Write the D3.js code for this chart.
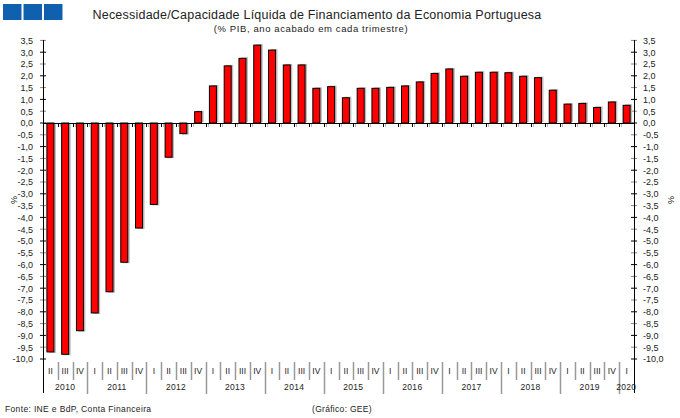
<!DOCTYPE html>
<html><head><meta charset="utf-8">
<script src="https://cdn.jsdelivr.net/npm/d3@7"></script>
<style>body{margin:0;background:#fff}svg{display:block}text{font-family:"Liberation Sans",Arial,sans-serif}</style>
</head><body>
<svg id="c" width="680" height="418"></svg>
<script>
const years = ["2010","2011","2012","2013","2014","2015","2016","2017","2018","2019","2020"];
const quarters = ["2010 II","2010 III","2010 IV",
 "2011 I","2011 II","2011 III","2011 IV",
 "2012 I","2012 II","2012 III","2012 IV",
 "2013 I","2013 II","2013 III","2013 IV",
 "2014 I","2014 II","2014 III","2014 IV",
 "2015 I","2015 II","2015 III","2015 IV",
 "2016 I","2016 II","2016 III","2016 IV",
 "2017 I","2017 II","2017 III","2017 IV",
 "2018 I","2018 II","2018 III","2018 IV",
 "2019 I","2019 II","2019 III","2019 IV",
 "2020 I"];
const values = [-9.7,-9.8,-8.8,
 -8.05,-7.15,-5.9,-4.45,
 -3.45,-1.45,-0.45,0.48,
 1.57,2.42,2.74,3.3,
 3.09,2.46,2.46,1.47,
 1.54,1.07,1.47,1.47,
 1.51,1.57,1.74,2.1,
 2.29,1.98,2.15,2.15,
 2.13,1.98,1.92,1.39,
 0.8,0.83,0.66,0.89,
 0.75];
const yTicks = d3.range(-20,8).map(d=>d/2);
const title = "Necessidade/Capacidade Líquida de Financiamento da Economia Portuguesa";
const subtitle = "(% PIB, ano acabado em cada trimestre)";
const source = "Fonte: INE e BdP, Conta Financeira";
const credit = "(Gráfico: GEE)";

const svg = d3.select("#c");
const L = 43, R = 634;
const y = d3.scaleLinear().domain([-10,3.5]).range([359,40.4]);
const x = d3.scaleBand().domain(quarters).range([L,R]).paddingInner(0).paddingOuter(0);
const bw = 7;

// logo
[0,1,2].forEach(i=>svg.append("rect").attr("x",3+i*20.5).attr("y",4).attr("width",18.5).attr("height",16).attr("fill","#1060b0"));

svg.append("text").attr("x",317).attr("y",19).attr("text-anchor","middle").attr("font-size",12.5).attr("letter-spacing",0.22).attr("fill","#222").text(title);
svg.append("text").attr("x",311).attr("y",32).attr("text-anchor","middle").attr("font-size",9.5).attr("letter-spacing",0.6).attr("fill","#222").text(subtitle);

// axes
const fmt = d=>d3.format(".1f")(d).replace(".",",").replace("−","-");
const leftAx = svg.append("g").attr("transform",`translate(${L},0)`)
  .call(d3.axisLeft(y).tickValues(yTicks).tickSize(0).tickFormat(fmt));
leftAx.select(".domain").remove();
leftAx.selectAll("text").attr("x",-10).attr("font-size",9).attr("fill","#222").attr("font-family","Liberation Sans, Arial, sans-serif");
const rightAx = svg.append("g").attr("transform",`translate(${R},0)`)
  .call(d3.axisRight(y).tickValues(yTicks).tickSize(0).tickFormat(fmt));
rightAx.select(".domain").remove();
rightAx.selectAll("text").attr("x",9).attr("font-size",9).attr("fill","#222").attr("font-family","Liberation Sans, Arial, sans-serif");

yTicks.forEach(t=>{
  const c = Number.isInteger(t) ? "#000" : "#888";
  svg.append("line").attr("x1",L-3).attr("x2",L+3).attr("y1",y(t)).attr("y2",y(t)).attr("stroke",c);
  svg.append("line").attr("x1",R-3).attr("x2",R+3).attr("y1",y(t)).attr("y2",y(t)).attr("stroke",c);
});
svg.append("line").attr("x1",L+0.5).attr("x2",L+0.5).attr("y1",40).attr("y2",393).attr("stroke","#000");
svg.append("line").attr("x1",R+0.5).attr("x2",R+0.5).attr("y1",40).attr("y2",393).attr("stroke","#000");

svg.append("text").attr("transform",`translate(11,200) rotate(90)`).attr("text-anchor","middle").attr("font-size",9).attr("fill","#222").text("%");
svg.append("text").attr("transform",`translate(668,200) rotate(90)`).attr("text-anchor","middle").attr("font-size",9).attr("fill","#222").text("%");

// bars
const g = svg.append("g");
quarters.forEach((q,i)=>{
  const v = values[i];
  const cx = x(q) + x.bandwidth()/2;
  const y0 = y(0), y1 = y(v);
  const top = Math.min(y0,y1), h = Math.abs(y1-y0);
  g.append("rect").attr("x",cx-bw/2+2).attr("y",top+ (v>0?-1:1)).attr("width",bw).attr("height",h).attr("fill","#bbb");
  g.append("rect").attr("x",cx-bw/2).attr("y",top).attr("width",bw).attr("height",h).attr("fill","#ff0000").attr("stroke","#000").attr("stroke-width",1);
});
// zero line
svg.append("line").attr("x1",L).attr("x2",R).attr("y1",y(0)+0.5).attr("y2",y(0)+0.5).attr("stroke","#000");
quarters.forEach((q,i)=>{
  if(i===0) return;
  const xx = Math.round(x(q))+0.5;
  svg.append("line").attr("x1",xx).attr("x2",xx).attr("y1",y(0)).attr("y2",y(0)+4).attr("stroke","#000");
  svg.append("line").attr("x1",xx+2).attr("x2",xx+2).attr("y1",y(0)+1).attr("y2",y(0)+4).attr("stroke","#bbb");
});

// category axis
const qlab = q=>q.split(" ")[1];
quarters.forEach((q,i)=>{
  const cx = x(q)+x.bandwidth()/2;
  svg.append("text").attr("x",cx).attr("y",374).attr("text-anchor","middle").attr("font-size",8.5).attr("fill","#222").text(qlab(q));
  if(i>0){
    const xx = Math.round(x(q))+0.5;
    const isYear = qlab(q)==="I";
    svg.append("line").attr("x1",xx).attr("x2",xx).attr("y1",362).attr("y2",isYear?394:380).attr("stroke","#999").attr("stroke-width",1.5);
  }
});
years.forEach(yr=>{
  const qs = quarters.filter(q=>q.startsWith(yr));
  const x0 = x(qs[0]), x1 = x(qs[qs.length-1])+x.bandwidth();
  let cx = (x0+x1)/2;
  if(yr==="2020") cx = x0 + 7;
  svg.append("text").attr("x",cx).attr("y",390).attr("text-anchor","middle").attr("font-size",8.5).attr("letter-spacing",0.3).attr("fill","#222").text(yr);
});

svg.append("text").attr("x",5).attr("y",412).attr("font-size",8.5).attr("letter-spacing",0.35).attr("fill","#222").text(source);
svg.append("text").attr("x",312).attr("y",412).attr("font-size",8.5).attr("letter-spacing",0.3).attr("fill","#222").text(credit);
</script>
</body></html>
